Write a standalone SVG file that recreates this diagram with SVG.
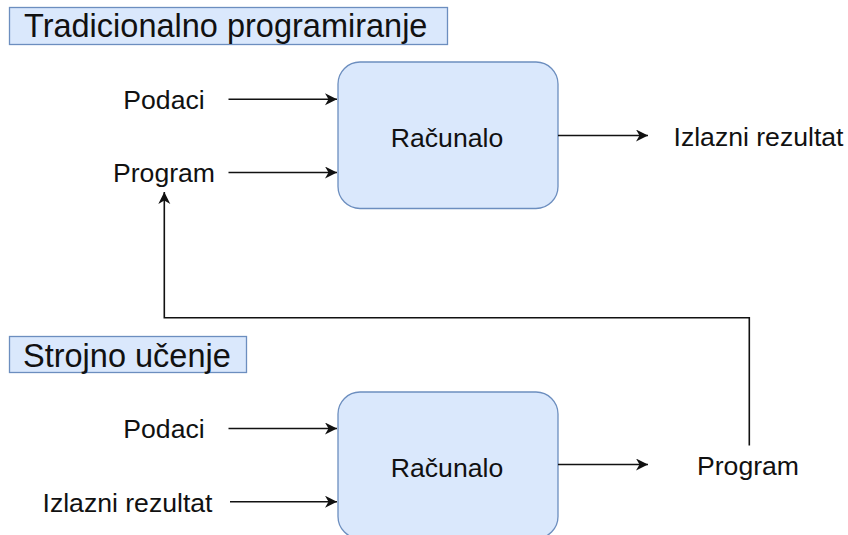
<svg xmlns="http://www.w3.org/2000/svg" width="848" height="535" viewBox="0 0 848 535">
<style>
  .title { fill: #dae8fc; stroke: #6c8ebf; stroke-width: 1.3; }
  .box { fill: #dae8fc; stroke: #6c8ebf; stroke-width: 1.3; }
  text { font-family: "Liberation Sans", Arial, Helvetica, sans-serif; fill: #111; }
  .t { font-size: 32.5px; }
  .l { font-size: 26.6px; text-anchor: middle; }
  .edge { fill: none; stroke: #111; stroke-width: 1.6; }
</style>
<defs>
  <marker id="arr" markerUnits="userSpaceOnUse" markerWidth="16" markerHeight="14" refX="12" refY="6" orient="auto">
    <path d="M0,0 L12,6 L0,12 L3.5,6 Z" fill="#111"/>
  </marker>
</defs>

<g id="title-trad">
  <rect class="title" x="9.5" y="7.5" width="438" height="37"/>
  <text class="t" x="24" y="37">Tradicionalno programiranje</text>
</g>
<g id="title-ml">
  <rect class="title" x="9.5" y="336.5" width="237" height="36"/>
  <text class="t" x="23" y="366.5">Strojno učenje</text>
</g>

<g id="computer-1">
  <rect class="box" x="338" y="62" width="220" height="146.5" rx="22" ry="22"/>
  <text class="l" x="447" y="146.5">Računalo</text>
</g>
<g id="computer-2">
  <rect class="box" x="338" y="392" width="220" height="146.5" rx="22" ry="22"/>
  <text class="l" x="447" y="476.5">Računalo</text>
</g>

<g id="label-podaci-1"><text class="l" x="164" y="109">Podaci</text></g>
<g id="label-program-1"><text class="l" x="164" y="182">Program</text></g>
<g id="label-izlazni-1"><text class="l" x="758.5" y="145.5">Izlazni rezultat</text></g>
<g id="label-podaci-2"><text class="l" x="164" y="438">Podaci</text></g>
<g id="label-izlazni-2"><text class="l" x="127.5" y="511.5">Izlazni rezultat</text></g>
<g id="label-program-2"><text class="l" x="748" y="475">Program</text></g>

<g id="connectors">
  <path class="edge" d="M228.5,99.3 L337,99.3" marker-end="url(#arr)"/>
  <path class="edge" d="M228.5,172.5 L337,172.5" marker-end="url(#arr)"/>
  <path class="edge" d="M558,135.5 L648,135.5" marker-end="url(#arr)"/>
  <path class="edge" d="M228.5,428.5 L337,428.5" marker-end="url(#arr)"/>
  <path class="edge" d="M230,501.7 L337,501.7" marker-end="url(#arr)"/>
  <path class="edge" d="M558,464.5 L648,464.5" marker-end="url(#arr)"/>
  <path class="edge" d="M749.3,445.5 L749.3,317.8 L164.3,317.8 L164.3,192" marker-end="url(#arr)"/>
</g>
</svg>
